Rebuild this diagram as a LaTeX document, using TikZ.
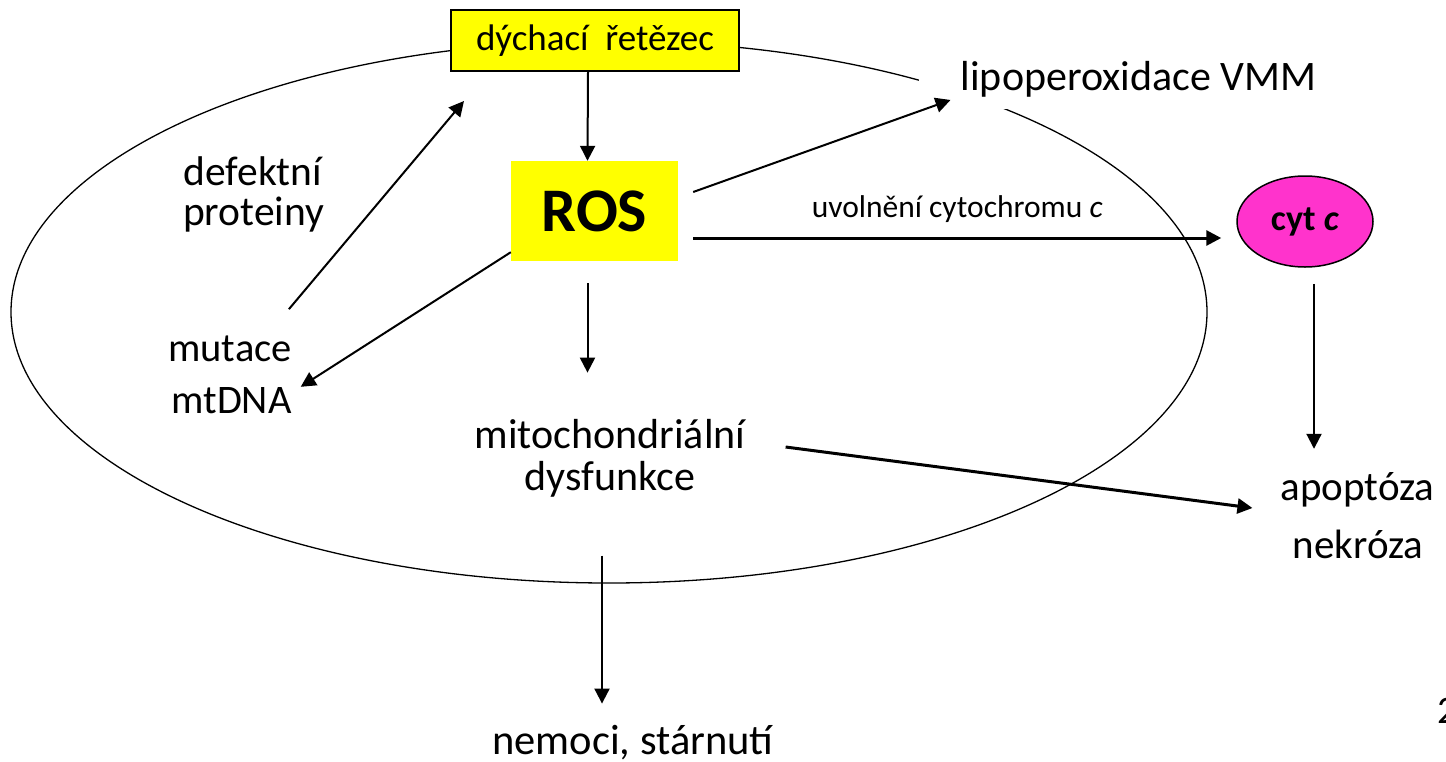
\documentclass[tikz,border=0pt]{standalone}
\usepackage{fontspec}
\setmainfont{Carlito}
\usetikzlibrary{arrows.meta, shapes.geometric}

\definecolor{rosyellow}{RGB}{255,255,0}
\definecolor{cytpink}{RGB}{255,51,204}

\begin{document}
\begin{tikzpicture}[x=1pt, y=-1pt, >={Triangle[length=15pt,width=15pt]},
	lbl/.style={inner sep=0pt, anchor=base, font=\fontsize{42}{48}\selectfont},
	arr/.style={->, line width=2pt},
	fatarr/.style={->, line width=3pt}]
	
	\useasboundingbox (0,0) rectangle (1446,761);
	
	% 1. The mitochondrion outline
	\node[draw, ellipse, line width=1.3pt, inner sep=0pt,
	minimum width=1196pt, minimum height=542pt] (cell) at (609,312) {};
	
	% 2. Boxes: respiratory chain, ROS, cytochrome c
	\node[draw, line width=2pt, fill=rosyellow, inner sep=0pt,
	minimum width=288pt, minimum height=61pt,
	font=\fontsize{37}{44}\selectfont] (chain) at (595,40.5) {dýchací\ \ řetězec};
	\node[fill=rosyellow, inner sep=0pt, minimum width=167pt, minimum height=100pt,
	font=\fontsize{62}{70}\selectfont\bfseries] (ROS) at (594.5,211) {ROS};
	\node[draw, ellipse, line width=1.5pt, fill=cytpink, inner sep=0pt,
	minimum width=136pt, minimum height=91pt,
	font=\fontsize{36}{42}\selectfont\bfseries] (cyt) at (1305,221.5) {cyt \textit{c}};
	
	% 3. Labels (the white box cuts the outline)
	\node[lbl, fill=white, inner xsep=42pt, inner ysep=12pt] (lipo) at (1138.5,90) {lipoperoxidace VMM};
	\node[lbl, font=\fontsize{41.5}{48}\selectfont] (defA) at (253,185) {defektní};
	\node[lbl, font=\fontsize{41.5}{48}\selectfont] (defB) at (253.5,225) {proteiny};
	\node[lbl, font=\fontsize{40.5}{46}\selectfont] (mutA) at (230,361) {mutace};
	\node[lbl, font=\fontsize{40.5}{46}\selectfont] (mutB) at (231.5,413) {mtDNA};
	\node[lbl] (mitoA) at (610,448) {mitochondriální};
	\node[lbl] (mitoB) at (610,490) {dysfunkce};
	\node[lbl, font=\fontsize{41}{48}\selectfont] (apop) at (1357.5,500) {apoptóza};
	\node[lbl, font=\fontsize{41}{48}\selectfont] (nekr) at (1358,558) {nekróza};
	\node[lbl, font=\fontsize{42.5}{48}\selectfont] (nemoci) at (633,754) {nemoci, stárnutí};
	\node[lbl, anchor=base west, font=\fontsize{39}{44}\selectfont] (pagenum) at (1437,723) {2};
	
	% 4. Arrows
	\draw[arr] ([xshift=-7pt]chain.south) -- ([xshift=-7pt]ROS.north);
	\draw[arr] ([xshift=15pt,yshift=19pt]ROS.east) -- ([xshift=32pt,yshift=9pt]lipo.south west);
	\coordinate (rosE) at ([xshift=15pt,yshift=-27pt]ROS.east);
	\draw[fatarr] (rosE) -- ([xshift=-15pt]rosE -| cyt.west)
	node[midway, lbl, yshift=21pt, font=\fontsize{31.5}{36}\selectfont] (cytlbl) {uvolnění cytochromu \textit{c}};
	\draw[arr] ([yshift=9pt]ROS.south west) -- ([xshift=9pt]mutB.north east);
	\draw[arr] ([xshift=-3pt,yshift=26pt]mutA.north east) -- ([xshift=14pt,yshift=-29pt]chain.south west);
	\coordinate (rosS) at ([xshift=-7pt,yshift=-22pt]ROS.south);
	\draw[arr] (rosS) -- ([yshift=46pt]rosS |- mitoA.north);
	\draw[fatarr] ([xshift=40pt,yshift=1pt]mitoA.base east) -- ([xshift=-28pt,yshift=-8pt]apop.base west);
	\coordinate (cytS) at ([xshift=9pt,yshift=-16pt]cyt.south);
	\draw[arr] (cytS) -- ([yshift=23pt]cytS |- apop.north);
	\coordinate (cellS) at ([xshift=-7pt,yshift=28pt]cell.south);
	\draw[arr] (cellS) -- ([yshift=21pt]cellS |- nemoci.north);
	
\end{tikzpicture}
\end{document}
